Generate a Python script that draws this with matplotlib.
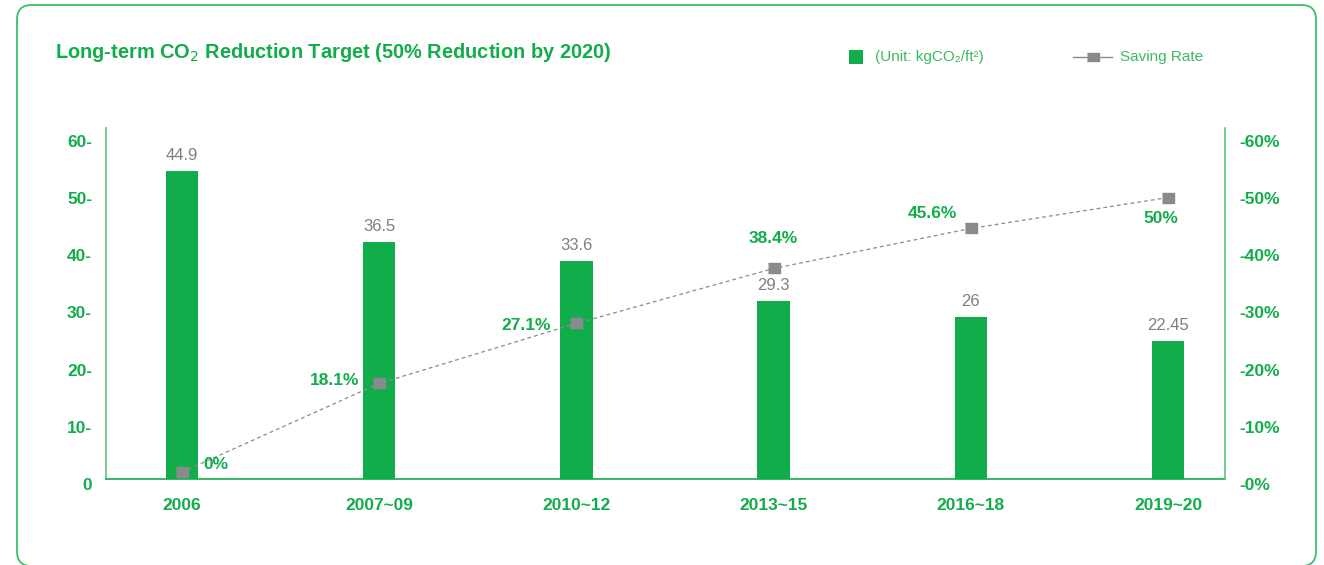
import matplotlib
matplotlib.use("Agg")
import matplotlib.pyplot as plt
import matplotlib.transforms as mtransforms
from matplotlib.patches import FancyBboxPatch
from matplotlib.lines import Line2D
from matplotlib.patches import Rectangle

# data
periods = ["2006", "2007~09", "2010~12", "2013~15", "2016~18", "2019~20"]
bar_heights = [53.8, 41.4, 38.1, 31.2, 28.4, 24.1]      # drawn heights
bar_labels = ["44.9", "36.5", "33.6", "29.3", "26", "22.45"]
saving_rate = [1.2, 16.7, 27.2, 36.8, 43.8, 49.2]      # drawn positions (%)
rate_labels = ["0%", "18.1%", "27.1%", "38.4%", "45.6%", "50%"]
left_ticks = [0, 10, 20, 30, 40, 50, 60]
right_ticks = [0, 10, 20, 30, 40, 50, 60]

GREEN = "#12ad4b"
SPINE = "#5cc47f"
GRAY = "#8a8a8e"
TEXT_GRAY = "#7f7f7f"

plt.rcParams["font.family"] = ["Liberation Sans", "DejaVu Sans"]

W, H = 1324, 565
fig = plt.figure(figsize=(W / 100, H / 100), dpi=100)

# rounded frame
frame = FancyBboxPatch((17 / W, 1 - 566 / H), (1316 - 17) / W, (566 - 5) / H,
                       boxstyle="round,pad=0,rounding_size=0.011",
                       transform=fig.transFigure, fill=False,
                       edgecolor="#3cbf68", linewidth=1.3, mutation_aspect=W / H)
fig.add_artist(frame)

ax = fig.add_axes([106 / W, 1 - 479 / H, (1225 - 106) / W, (479 - 128) / H])
x = list(range(len(periods)))
ax.bar(x, bar_heights, width=0.165, color=GREEN, zorder=2)
ax.set_xlim(-0.385, 5.289)
ax.set_ylim(0, 61.36)
ax.set_yticks(left_ticks)
ax.set_yticklabels([f"{t}-" if t else "0" for t in left_ticks])
ax.set_xticks(x)
ax.set_xticklabels(periods)
ax.tick_params(axis="y", length=0, pad=10, labelsize=12.5, labelcolor=GREEN)
ax.tick_params(axis="x", length=0, pad=14, labelsize=12.5, labelcolor=GREEN)
for lab in ax.get_yticklabels() + ax.get_xticklabels():
    lab.set_fontweight("bold")
for s in ["top", "right"]:
    ax.spines[s].set_visible(False)
ax.spines["left"].set_color(SPINE)
ax.spines["bottom"].set_color(GREEN)
ax.spines["left"].set_linewidth(1.2)
ax.spines["bottom"].set_linewidth(1.2)

for xi, h, lab in zip(x, bar_heights, bar_labels):
    ax.annotate(lab, (xi, h), xytext=(0, 8), textcoords="offset pixels",
                ha="center", va="bottom", color=TEXT_GRAY, fontsize=12)

ax2 = ax.twinx()
ax2.set_ylim(0, 61.36)
box = [(-1, -0.75), (1, -0.75), (1, 0.75), (-1, 0.75)]
ax2.plot(x, saving_rate, color=GRAY, linestyle=(0, (3, 2.5)), linewidth=0.9,
         marker=box, markersize=9, markerfacecolor=GRAY, markeredgecolor=GRAY, zorder=3)
ax2.set_yticks(right_ticks)
ax2.set_yticklabels([f"-{t}%" for t in right_ticks])
ax2.tick_params(axis="y", length=0, pad=10, labelsize=12.5, labelcolor=GREEN)
for lab in ax2.get_yticklabels():
    lab.set_fontweight("bold")
for s in ["top", "left", "bottom"]:
    ax2.spines[s].set_visible(False)
ax2.spines["right"].set_color(SPINE)
ax2.spines["right"].set_linewidth(1.2)

# tick labels sit a few pixels below their gridline in the reference
shift = mtransforms.ScaledTranslation(0, -5 / 100, fig.dpi_scale_trans)
for lab in ax.get_yticklabels() + ax2.get_yticklabels():
    lab.set_transform(lab.get_transform() + shift)

offsets = [(21, 8, "left"), (-20, 3, "right"), (-25, -2, "right"),
           (0, 30, "center"), (-38, 15, "center"), (-7, -21, "center")]
for xi, v, lab, (dx, dy, ha) in zip(x, saving_rate, rate_labels, offsets):
    ax2.annotate(lab, (xi, v), xytext=(dx, dy), textcoords="offset pixels",
                 ha=ha, va="center", color=GREEN, fontsize=12.5, fontweight="bold")

# title and legend
fig.text(55 / W, 1 - 52 / H, "Long-term CO$_2$ Reduction Target (50% Reduction by 2020)",
         color=GREEN, fontsize=14.4, fontweight="bold", ha="left", va="center")
fig.add_artist(Rectangle((849 / W, 1 - 64 / H), 14 / W, 14 / H, transform=fig.transFigure,
                         facecolor=GREEN, edgecolor="none"))
fig.text(875 / W, 1 - 57 / H, "(Unit: kgCO\u2082/ft\u00b2)", color="#3cb964",
         fontsize=11, ha="left", va="center")
fig.add_artist(Line2D([1073 / W, 1112 / W], [1 - 57 / H, 1 - 57 / H], transform=fig.transFigure,
                      color=GRAY, linewidth=1))
fig.add_artist(Line2D([1093 / W], [1 - 57 / H], transform=fig.transFigure, marker=box,
                      markersize=8.5, color=GRAY, linestyle="none"))
fig.text(1120 / W, 1 - 57 / H, "Saving Rate", color="#3cb964", fontsize=11,
         ha="left", va="center")

fig.savefig("out.png", dpi=100)
